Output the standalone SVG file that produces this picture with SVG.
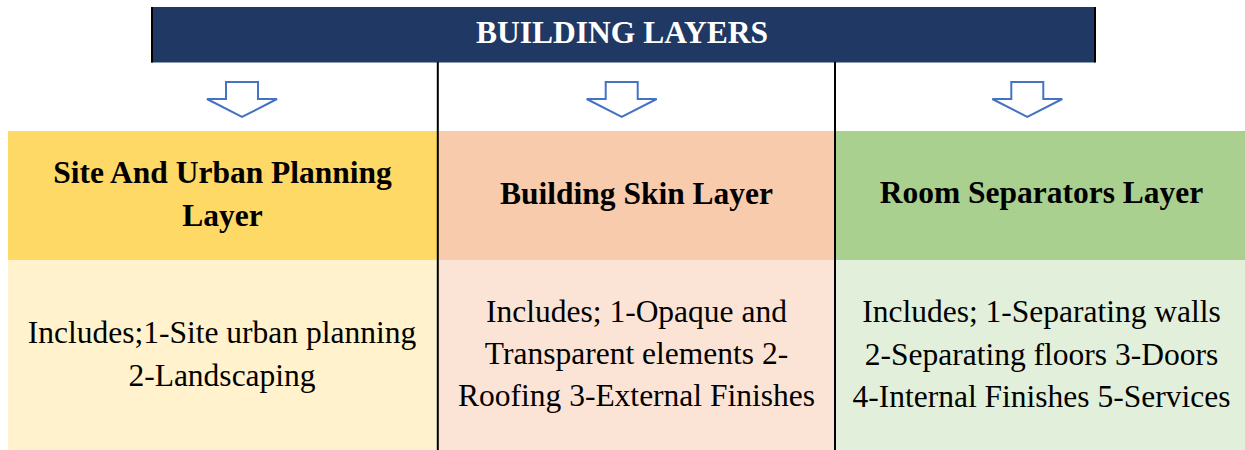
<svg xmlns="http://www.w3.org/2000/svg" width="1245" height="450" viewBox="0 0 1245 450">
  <style>
    .t { font-family: "Liberation Serif", "Times New Roman", serif; font-size: 31.5px; fill: #000; text-anchor: middle; }
    .b { font-weight: bold; }
    .w { fill: #ffffff; }
    .arrow { fill: #ffffff; stroke: #4472C4; stroke-width: 2; stroke-linejoin: miter; }
    .rule { stroke: #000; stroke-width: 2; fill: none; }
  </style>
  <defs>
    <path id="downArrow" d="M -16,82 H 16 V 99 H 35 L 0,117 L -35,99 H -16 Z"/>
  </defs>
  <rect width="1245" height="450" fill="#ffffff"/>

  <g id="header">
    <rect x="151" y="7" width="944" height="55.5" fill="#203864"/>
    <line class="rule" x1="152" y1="7" x2="152" y2="62.5"/>
    <line class="rule" x1="1095" y1="7" x2="1095" y2="62.5"/>
    <text class="t b w" x="622" y="42.5">BUILDING LAYERS</text>
  </g>

  <g id="site-layer">
    <rect x="8" y="131" width="430" height="129" fill="#FFD966"/>
    <text class="t b" x="222.5" y="183.3">Site And Urban Planning</text>
    <text class="t b" x="222.5" y="226">Layer</text>
  </g>
  <g id="site-content">
    <rect x="8" y="260" width="430" height="190" fill="#FFF2CC"/>
    <text class="t" x="222" y="342.5">Includes;1-Site urban planning</text>
    <text class="t" x="222" y="386">2-Landscaping</text>
  </g>

  <g id="skin-layer">
    <rect x="438" y="131" width="397" height="129" fill="#F8CBAD"/>
    <text class="t b" x="636.5" y="203.5">Building Skin Layer</text>
  </g>
  <g id="skin-content">
    <rect x="438" y="260" width="397" height="190" fill="#FBE4D5"/>
    <text class="t" x="636.5" y="321.7">Includes; 1-Opaque and</text>
    <text class="t" x="636.5" y="363.5">Transparent elements 2-</text>
    <text class="t" x="636.5" y="405.7">Roofing 3-External Finishes</text>
  </g>

  <g id="separators-layer">
    <rect x="835" y="131" width="410" height="129" fill="#A9D08E"/>
    <text class="t b" x="1041.5" y="203.3">Room Separators Layer</text>
  </g>
  <g id="separators-content">
    <rect x="835" y="260" width="410" height="190" fill="#E2EFDA"/>
    <text class="t" x="1041.5" y="321.7">Includes; 1-Separating walls</text>
    <text class="t" x="1041.5" y="365">2-Separating floors 3-Doors</text>
    <text class="t" x="1041.5" y="407">4-Internal Finishes 5-Services</text>
  </g>

  <g id="connectors">
    <line class="rule" x1="437.8" y1="62" x2="437.8" y2="450"/>
    <line class="rule" x1="835" y1="62" x2="835" y2="450"/>
    <use href="#downArrow" class="arrow" transform="translate(242,0)"/>
    <use href="#downArrow" class="arrow" transform="translate(621.7,0)"/>
    <use href="#downArrow" class="arrow" transform="translate(1027.3,0)"/>
  </g>
</svg>
